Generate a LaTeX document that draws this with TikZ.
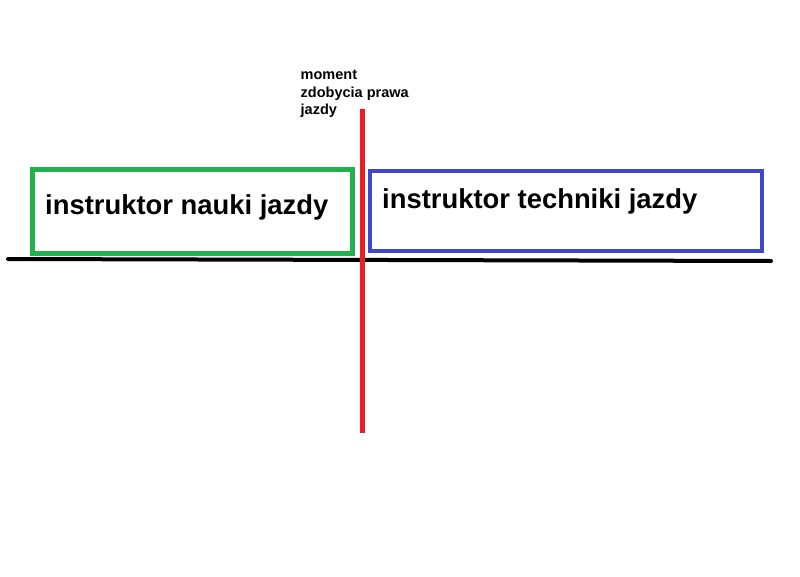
\documentclass[tikz,border=0pt]{standalone}
\usepackage{fontspec}
\setmainfont{Liberation Sans}
\definecolor{pgreen}{RGB}{34,177,76}
\definecolor{pblue}{RGB}{63,72,204}
\definecolor{pred}{RGB}{237,28,36}
\begin{document}
\begin{tikzpicture}[x=1pt,y=-1pt,
  box/.style={draw, line width=4.5pt, inner sep=0pt, anchor=center},
  bigtext/.style={font=\bfseries\fontsize{27.4}{32}\selectfont, inner sep=0pt, anchor=base west},
  smalltext/.style={font=\bfseries\fontsize{14.5}{17.5}\selectfont, inner sep=0pt, anchor=north west, align=left}]
\useasboundingbox (0,0) rectangle (800,576);
% timeline
\coordinate (tl1) at (8,259);
\coordinate (tl2) at (200,259.5);
\coordinate (tl3) at (771,261);
\draw[line width=4pt, line cap=round] (tl1) -- (tl2) -- (tl3);
% boxes
\node[box, draw=pgreen, minimum width=320pt, minimum height=84pt] (nauka) at (192.5,211.5) {};
\node[box, draw=pblue, minimum width=392pt, minimum height=80pt] (technika) at (566,211) {};
\node[bigtext] (naukatxt) at (45,214) {instruktor nauki jazdy};
\node[bigtext] (technikatxt) at (382,208) {instruktor techniki jazdy};
% red moment line
\coordinate (mtop) at (362.5,109);
\coordinate (mbot) at (362.5,433);
\draw[pred, line width=5pt] (mtop) -- (mbot);
\node[smalltext] (moment) at (300.5,70) {moment\\zdobycia prawa\\jazdy};
\end{tikzpicture}
\end{document}
